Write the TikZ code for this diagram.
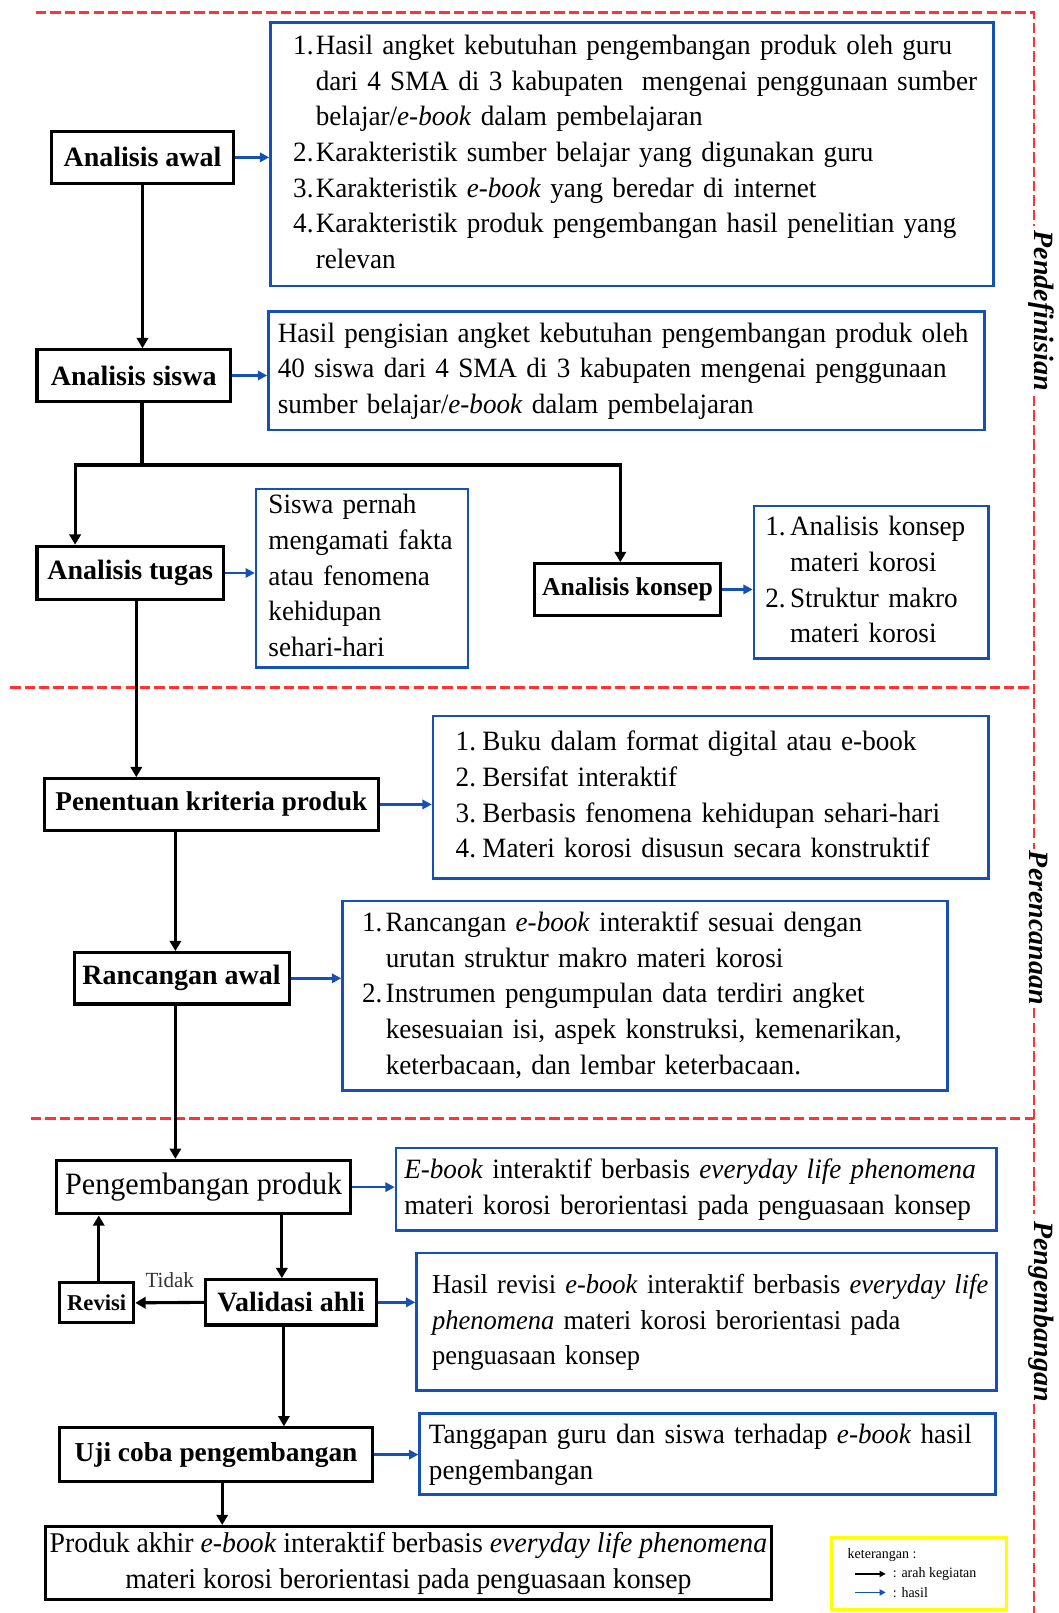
\documentclass[tikz,border=0pt]{standalone}
\usepackage{fontspec}
\setmainfont{Liberation Serif}[UprightFeatures={FakeStretch=0.97}, ItalicFeatures={FakeStretch=0.97}]
\usetikzlibrary{arrows.meta}

\definecolor{garisbiru}{HTML}{1550B4}
\definecolor{garismerah}{HTML}{FF3333}
\definecolor{gariskuning}{HTML}{FFFF00}

\newcommand{\ukuran}{\fontsize{13.6}{17.35}\selectfont}
\newcommand{\ukuranbesar}{\fontsize{15.1}{17.5}\selectfont}
\newcommand{\ukurankecil}{\fontsize{7}{8}\selectfont}
\newcommand{\eb}{\textit{e-book}}

\tikzset{
  kegiatan/.style={draw, line width=1.5pt, font=\ukuran\bfseries, inner sep=0pt, align=center},
  hasil/.style={draw=garisbiru, line width=1.3pt, font=\ukuran, align=left, inner ysep=0pt},
  alur/.style={line width=1.5pt, -{Triangle[length=5pt,width=5.5pt]}},
  alurdua/.style={line width=1.5pt, {Triangle[length=5pt,width=5.5pt]}-{Triangle[length=5pt,width=5.5pt]}},
  alurhasil/.style={garisbiru, line width=1.3pt, -{Triangle[length=4.5pt,width=4.5pt]}},
  batas/.style={garismerah, line width=1.3pt, dash pattern=on 5pt off 2pt},
  tahap/.style={font=\ukuran\bfseries\itshape, rotate=-90},
}

\begin{document}
\begin{tikzpicture}[x=0.5pt,y=-0.5pt]
\useasboundingbox (0,0) rectangle (1029,1568);
% batas tahap
\draw [batas] (35,12) -- (1005,12) -- (1005,220);
\draw [batas] (1005,385) -- (1005,825);
\draw [batas] (1005,980) -- (1005,1180);
\draw [batas] (1005,1365) -- (1005,1568);
\draw [batas] (10,668) -- (1005,668);
\draw [batas] (30,1087) -- (1005,1087);
\node [tahap] (tDefinisi) at (1012,302) {Pendefinisian};
\node [tahap] (tRencana) at (1010,902) {Perencanaan};
\node [tahap] (tKembang) at (1012,1275) {Pengembangan};
% kegiatan
\node [kegiatan, minimum width=88.5pt, minimum height=25pt] (awal) at (138.5,153) {Analisis awal};
\node [kegiatan, minimum width=94pt, minimum height=25pt] (siswa) at (130,365) {Analisis siswa};
\node [kegiatan, minimum width=90.5pt, minimum height=26pt] (tugas) at (126.5,557) {Analisis tugas};
\node [kegiatan, font=\fontsize{12.5}{15}\selectfont\bfseries, minimum width=90pt, minimum height=25pt] (konsep) at (610,573) {Analisis konsep};
\node [kegiatan, font=\fontsize{13.2}{15}\selectfont\bfseries, minimum width=162.5pt, minimum height=25pt] (penentuan) at (205.5,782) {Penentuan kriteria produk};
\node [kegiatan, minimum width=104.5pt, minimum height=25pt] (rancangan) at (176.5,951) {Rancangan awal};
\node [kegiatan, font=\ukuranbesar, minimum width=143pt, minimum height=26pt] (pengembangan) at (198,1154) {Pengembangan produk};
\node [kegiatan, font=\fontsize{11}{13}\selectfont\bfseries, minimum width=36pt, minimum height=19.5pt] (revisi) at (94,1266.5) {Revisi};
\node [kegiatan, minimum width=83pt, minimum height=22pt] (validasi) at (283,1266) {Validasi ahli};
\node [kegiatan, font=\fontsize{13.3}{15}\selectfont\bfseries, minimum width=152pt, minimum height=26pt] (uji) at (210,1414) {Uji coba pengembangan};
\node [kegiatan, font=\fontsize{13.9}{17.5}\selectfont, minimum width=353pt, minimum height=35.5pt] (produk) at (397,1519.5)
  {Produk akhir \eb{} interaktif berbasis \textit{everyday life phenomena}\\
   materi korosi berorientasi pada penguasaan konsep};
% hasil
\node [hasil, inner xsep=11pt, text width=329.5pt, minimum height=128pt] (hAwal) at (614.5,150)
  {\begin{tabular}{@{}p{11pt}@{}l@{}}
   1.&Hasil angket kebutuhan pengembangan produk oleh guru\\
   &dari 4 SMA di 3 kabupaten\ \ mengenai penggunaan sumber\\
   &belajar/\eb{} dalam pembelajaran\\
   2.&Karakteristik sumber belajar yang digunakan guru\\
   3.&Karakteristik \eb{} yang beredar di internet\\
   4.&Karakteristik produk pengembangan hasil penelitian yang\\
   &relevan
  \end{tabular}};
\node [hasil, inner xsep=4.5pt, text width=339pt, minimum height=57.5pt] (hSiswa) at (609,360.5)
  {\begin{tabular}{@{}l@{}}
   Hasil pengisian angket kebutuhan pengembangan produk oleh\\
   40 siswa dari 4 SMA di 3 kabupaten mengenai penggunaan\\
   sumber belajar/\eb{} dalam pembelajaran
  \end{tabular}};
\node [hasil, inner xsep=6pt, text width=91pt, minimum height=86pt] (hTugas) at (352,562)
  {\begin{tabular}{@{}l@{}}
   Siswa pernah\\ mengamati fakta\\ atau fenomena\\ kehidupan\\ sehari-hari
  \end{tabular}};
\node [hasil, inner xsep=5.5pt, text width=103pt, minimum height=74pt] (hKonsep) at (847,566)
  {\begin{tabular}{@{}p{12pt}@{}l@{}}
   1.&Analisis konsep\\ &materi korosi\\
   2.&Struktur makro\\ &materi korosi
  \end{tabular}};
\node [hasil, inner xsep=11pt, text width=248pt, minimum height=79pt] (hPenentuan) at (691,775)
  {\begin{tabular}{@{}p{13pt}@{}l@{}}
   1.&Buku dalam format digital atau e-book\\
   2.&Bersifat interaktif\\
   3.&Berbasis fenomena kehidupan sehari-hari\\
   4.&Materi korosi disusun secara konstruktif
  \end{tabular}};
\node [hasil, inner xsep=9.5pt, text width=275pt, minimum height=92pt] (hRancangan) at (627,968)
  {\begin{tabular}{@{}p{11.5pt}@{}l@{}}
   1.&Rancangan \eb{} interaktif sesuai dengan\\
   &urutan struktur makro materi korosi\\
   2.&Instrumen pengumpulan data terdiri angket\\
   &kesesuaian isi, aspek konstruksi, kemenarikan,\\
   &keterbacaan, dan lembar keterbacaan.
  \end{tabular}};
\node [hasil, inner xsep=4pt, text width=284pt, minimum height=40pt] (hPengembangan) at (677,1156)
  {\begin{tabular}{@{}l@{}}
   \textit{E-book} interaktif berbasis \textit{everyday life phenomena}\\
   materi korosi berorientasi pada penguasaan konsep
  \end{tabular}};
\node [hasil, font=\fontsize{13.3}{17.35}\selectfont, inner xsep=7.5pt, text width=267pt, minimum height=67pt] (hValidasi) at (687,1285)
  {\begin{tabular}{@{}l@{}}
   Hasil revisi \eb{} interaktif berbasis \textit{everyday life}\\
   \textit{phenomena} materi korosi berorientasi pada\\
   penguasaan konsep
  \end{tabular}};
\node [hasil, inner xsep=4.5pt, text width=271pt, minimum height=39.5pt] (hUji) at (688,1413.5)
  {\begin{tabular}{@{}l@{}}
   Tanggapan guru dan siswa terhadap \eb{} hasil\\
   pengembangan
  \end{tabular}};
% arah kegiatan
\coordinate (cabangKiri) at (73,452);
\coordinate (cabangKanan) at (603,452);
\draw [alur] (awal.south) -- (awal.south |- siswa.north);
\draw [line width=1.5pt] ([xshift=4pt]siswa.south) -- ([xshift=4pt]siswa.south |- cabangKiri);
\draw [alurdua] (cabangKiri |- tugas.north) -- (cabangKiri) -- (cabangKanan) -- (cabangKanan |- konsep.north);
\draw [alur] ([xshift=3pt]tugas.south) -- ([xshift=3pt]tugas.south |- penentuan.north);
\draw [alur] ([xshift=-3pt]rancangan.north |- penentuan.south) -- ([xshift=-3pt]rancangan.north);
\draw [alur] ([xshift=-3pt]rancangan.south) -- ([xshift=-3pt]rancangan.south |- pengembangan.north);
\draw [alur] ([xshift=-4.5pt]validasi.north |- pengembangan.south) -- ([xshift=-4.5pt]validasi.north);
\draw [alur] (validasi.west) -- node [midway, above=3pt, font=\fontsize{10.5}{12}\selectfont, text=black!80] {Tidak} (revisi.east);
\draw [alur] ([xshift=1pt]revisi.north) -- ([xshift=1pt]revisi.north |- pengembangan.south);
\draw [alur] ([xshift=-3.5pt]validasi.south) -- ([xshift=-3.5pt]validasi.south |- uji.north);
\draw [alur] ([xshift=3pt]uji.south) -- ([xshift=3pt]uji.south |- produk.north);
% hasil kegiatan
\draw [alurhasil] (awal.east) -- (awal.east -| hAwal.west);
\draw [alurhasil] (siswa.east) -- (siswa.east -| hSiswa.west);
\draw [alurhasil] (tugas.east) -- (tugas.east -| hTugas.west);
\draw [alurhasil] (konsep.east) -- (konsep.east -| hKonsep.west);
\draw [alurhasil] (penentuan.east) -- (penentuan.east -| hPenentuan.west);
\draw [alurhasil] (rancangan.east) -- (rancangan.east -| hRancangan.west);
\draw [alurhasil] (pengembangan.east) -- (pengembangan.east -| hPengembangan.west);
\draw [alurhasil] (validasi.east) -- (validasi.east -| hValidasi.west);
\draw [alurhasil] (uji.east) -- (uji.east -| hUji.west);
% keterangan
\node [draw=gariskuning, line width=1.5pt, minimum width=85pt, minimum height=35pt] (keterangan) at (893,1530) {};
\node [font=\ukurankecil, anchor=west] (ketJudul) at (817,1512) {keterangan :};
\node [font=\ukurankecil, anchor=west] (ketAlur) at (861,1530) {: arah kegiatan};
\node [font=\ukurankecil, anchor=west] (ketHasil) at (861,1548) {: hasil};
\draw [line width=0.8pt, -{Triangle[length=3pt,width=3pt]}] ([xshift=-15pt]ketAlur.west) -- (ketAlur.west);
\draw [garisbiru, line width=0.8pt, -{Triangle[length=3pt,width=3pt]}] ([xshift=-15pt]ketHasil.west) -- (ketHasil.west);
\end{tikzpicture}
\end{document}
